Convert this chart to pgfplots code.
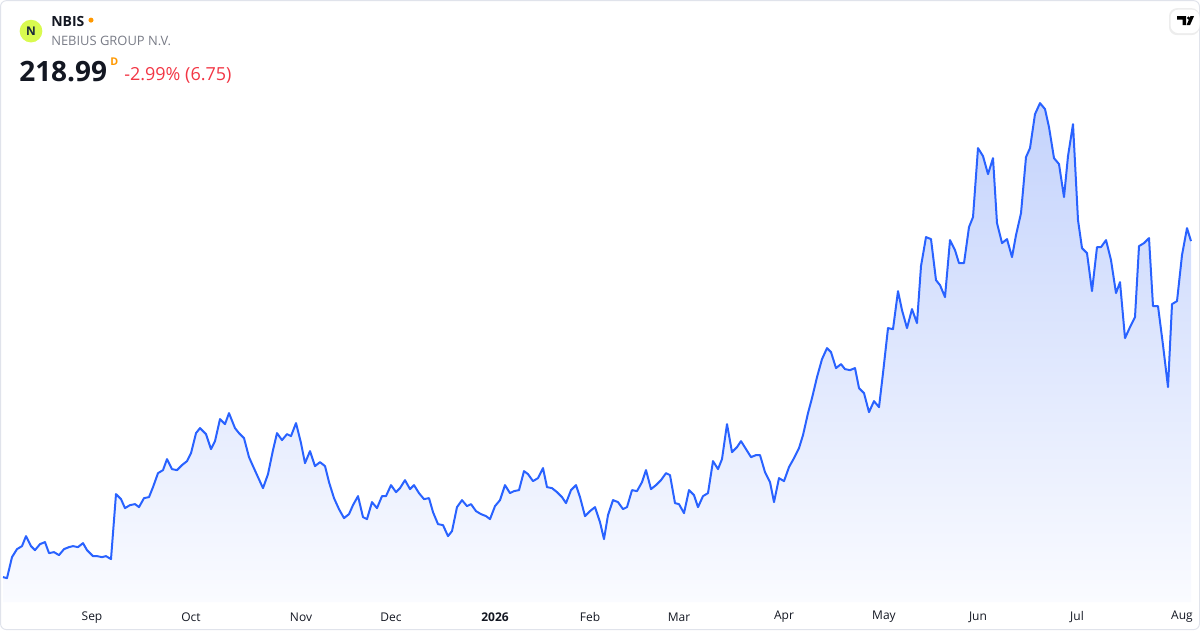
\documentclass[border=0pt]{standalone}
\usepackage{pgfplots}
\usepackage{pgfplotstable}
\pgfplotsset{compat=1.18}
\usepackage{fontspec}
\setmainfont{Open Sans}

\definecolor{tvblue}{HTML}{2962FF}
\definecolor{filltop}{RGB}{196,211,252}
\definecolor{fillbot}{RGB}{250,251,255}
\definecolor{tvred}{HTML}{F23645}
\definecolor{tvgray}{HTML}{787B86}
\definecolor{tvtext}{HTML}{131722}
\definecolor{tvorange}{HTML}{FF9800}
\definecolor{framegray}{HTML}{E0E3EB}
\definecolor{nlime}{HTML}{D9FA4F}
\definecolor{nnavy}{HTML}{1B2A3A}

% x: horizontal position (px), y: level of the line above the bottom (px)
\pgfplotstableread{
x y
3 53
7 52
12 73
17 81
22 84
26 94
31 84
35 80
40 86
45 88
49 77
54 78
59 75
64 81
69 83
73 84
78 83
83 87
87 80
93 74
97 74
102 73
106 74
111 71
116 136
121 131
125 122
130 125
135 126
139 123
144 132
149 133
153 143
158 157
163 160
167 171
172 161
177 160
182 165
187 169
191 177
196 197
200 202
206 196
211 181
215 189
220 211
225 206
229 217
235 202
239 197
244 192
249 173
253 164
258 153
263 142
268 156
273 180
277 197
282 190
287 196
291 194
296 207
301 187
305 167
310 179
315 164
320 168
325 164
329 148
334 132
339 121
344 112
349 116
353 125
358 134
363 113
367 111
372 128
377 122
382 134
386 134
391 145
396 138
400 142
405 150
410 141
414 145
419 137
424 131
429 132
433 118
438 106
443 105
448 94
452 99
457 123
462 130
467 124
471 126
476 119
481 116
486 114
490 111
495 124
500 130
505 145
510 137
514 139
519 140
524 159
528 156
533 149
538 152
543 162
547 143
552 142
557 138
562 133
566 127
571 140
576 145
580 133
585 114
590 119
595 123
600 108
604 91
608 115
613 130
618 128
623 121
627 123
632 140
637 139
642 148
646 160
651 141
656 145
661 150
666 157
670 155
675 127
679 126
684 117
689 140
694 135
698 123
703 134
708 137
713 169
718 161
722 171
727 206
732 178
737 183
741 189
746 181
751 173
756 175
760 175
765 158
770 148
774 128
779 152
784 149
789 163
794 172
799 182
803 195
808 217
812 232
817 253
822 271
827 282
831 278
836 262
841 266
845 261
850 260
855 262
859 242
864 237
869 218
874 229
879 223
883 257
888 302
893 301
898 339
902 320
907 302
912 321
917 307
921 364
926 393
931 391
936 350
940 345
945 333
950 390
955 380
959 367
964 367
969 403
973 413
978 482
983 474
988 456
993 472
997 407
1002 387
1007 391
1012 373
1016 395
1021 417
1026 473
1030 482
1035 516
1040 527
1045 521
1049 503
1054 472
1059 466
1064 433
1068 474
1073 506
1078 410
1082 382
1087 377
1092 339
1097 383
1101 383
1106 390
1111 370
1116 337
1120 348
1125 292
1130 303
1135 313
1139 384
1144 387
1149 392
1153 324
1158 324
1163 285
1168 243
1172 326
1177 329
1182 375
1187 402
1191 389
}\nbis

\begin{document}
\begin{tikzpicture}
\begin{axis}[
  at={(0pt,21pt)}, anchor=south west,
  scale only axis, width=900pt, height=451.5pt,
  xmin=0, xmax=1200, ymin=28, ymax=630,
  axis line style={draw=none},
  ytick=\empty,
  xtick={92,191,301,391,495,590,679,784,884,978,1077,1182},
  xticklabels={Sep,Oct,Nov,Dec,\textbf{2026},Feb,Mar,Apr,May,Jun,Jul,Aug},
  major tick length=0pt,
  xticklabel style={anchor=center, yshift=-11.25pt,
    font=\fontsize{9}{11}\selectfont, text=tvtext},
]
\addplot[draw=none, top color=filltop, bottom color=fillbot] table {\nbis} \closedcycle;
\addplot[tvblue, line width=1.5pt, line join=round] table {\nbis};
\end{axis}

% frame
\draw[framegray, line width=0.75pt, rounded corners=4.5pt]
  (0.375pt,0.375pt) rectangle (899.625pt,472.125pt);

% header, in pixel units from the top left
\begin{scope}[x=0.75pt, y=-0.75pt, shift={(0pt,472.5pt)}]
  \fill[nlime] (31,31) circle (8.5pt);
  \node[text=nnavy, font=\bfseries\fontsize{9}{9}\selectfont] at (31,31) {N};
  \node[anchor=base west, inner sep=0, text=tvtext,
    font=\bfseries\fontsize{10.5}{12}\selectfont] at (51,26) {NBIS};
  \fill[tvorange] (91,20) circle (1.9pt);
  \node[anchor=base west, inner sep=0, text=tvgray,
    font=\fontsize{9.7}{11}\selectfont] at (51,45) {NEBIUS GROUP N.V.};
  \node[anchor=base west, inner sep=0, text=tvtext,
    font=\bfseries\fontsize{21}{24}\selectfont] at (19,81) {218.99};
  \node[anchor=base west, inner sep=0, text=tvorange,
    font=\bfseries\fontsize{8}{9}\selectfont] at (110,65) {D};
  \node[anchor=base west, inner sep=0, text=tvred,
    font=\fontsize{13.5}{15}\selectfont] at (124,80) {-2.99\% (6.75)};
  % TradingView badge
  \fill[black!7, rounded corners=6pt] (1169,8) rectangle (1199.5,35);
  \fill[white, rounded corners=6pt] (1170.5,9.5) rectangle (1199.5,33);
  \fill[black] (1177,16) -- (1186,16) -- (1186,25) -- (1182.5,25)
    -- (1182.5,19.5) -- (1177,19.5) -- cycle;
  \fill[black] (1188.6,18) circle (1.3pt);
  \fill[black] (1186.5,25) -- (1190.5,16) -- (1194,16) -- (1190,25) -- cycle;
\end{scope}
\end{tikzpicture}
\end{document}
